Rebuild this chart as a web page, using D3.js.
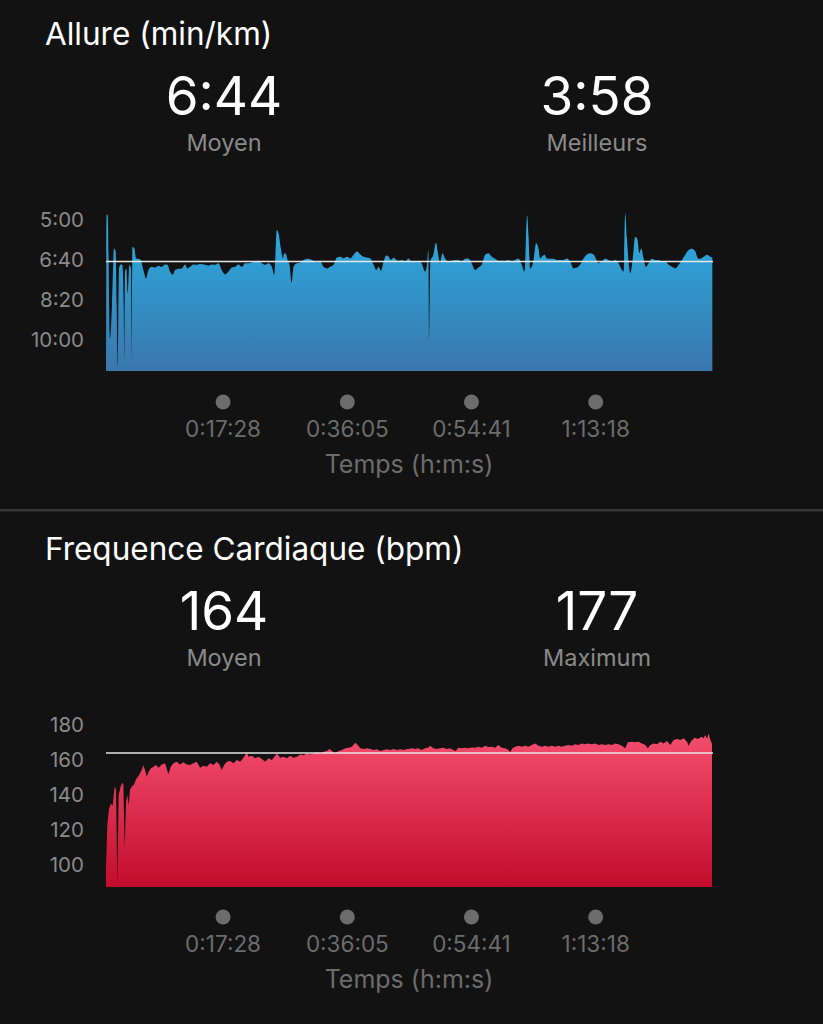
<!DOCTYPE html>
<html><head><meta charset="utf-8">
<script src="https://cdn.jsdelivr.net/npm/d3@7"></script>
<style>
html,body{margin:0;padding:0;background:#121212;}
svg{display:block;}
text{font-family:Inter,"Noto Sans",sans-serif;}
</style></head><body>
<svg id="c" width="823" height="1024"></svg>
<script>
// ---- data (time in seconds, pace in seconds per km, heart rate in bpm) ----
const paceTime = [0,6,15,36,54,72,87,96,105,117,132,147,159,165,171,183,195,210,225,231,237,255,270,291,312,336,360,381,411,441,471,501,531,552,576,600,621,651,681,711,732,756,786,816,846,891,921,951,981,1011,1041,1071,1101,1131,1161,1191,1221,1251,1281,1311,1341,1371,1401,1431,1461,1491,1512,1536,1551,1572,1590,1602,1620,1632,1650,1668,1686,1716,1746,1776,1806,1836,1866,1896,1926,1956,1986,2016,2046,2076,2106,2136,2166,2196,2226,2256,2286,2316,2346,2376,2406,2430,2451,2472,2496,2520,2541,2562,2586,2610,2631,2661,2691,2718,2748,2778,2808,2838,2868,2883,2898,2907,2916,2943,2967,2982,3003,3024,3048,3078,3108,3138,3168,3198,3228,3258,3288,3318,3348,3378,3408,3438,3468,3498,3528,3558,3588,3618,3648,3678,3708,3738,3762,3786,3798,3813,3828,3843,3867,3888,3903,3918,3942,3963,3993,4023,4053,4083,4113,4143,4173,4203,4233,4263,4293,4323,4353,4383,4404,4428,4458,4488,4518,4548,4578,4608,4638,4653,4668,4683,4698,4713,4734,4758,4779,4794,4812,4833,4854,4878,4908,4938,4968,4998,5028,5058,5088,5118,5148,5178,5208,5238,5268,5298,5322,5343,5373,5403,5433,5451];
const paceSec = [671,286,288,596,513,371,379,513,667,421,411,412,513,658,429,421,483,412,421,671,367,371,396,397,400,425,446,425,417,419,415,417,411,412,429,437,425,422,421,411,421,417,411,412,410,412,414,411,412,408,425,436,429,419,417,411,417,408,408,406,404,402,408,412,408,417,437,325,333,371,396,383,386,400,412,458,417,408,406,400,397,398,402,406,404,417,421,417,412,394,392,396,392,396,387,379,386,392,394,396,412,425,417,427,404,389,392,400,394,400,402,400,404,396,404,404,402,408,429,417,375,604,404,387,356,379,408,383,396,404,402,400,400,404,397,396,408,425,419,412,387,383,392,397,402,402,402,400,404,400,396,412,429,288,337,421,417,400,358,371,396,392,387,396,397,397,400,400,400,396,404,421,419,411,396,386,383,386,396,408,404,396,400,404,400,408,425,429,283,346,404,433,400,342,350,383,371,396,417,408,397,400,400,404,404,412,417,421,412,400,387,375,372,379,396,397,392,387,392,394];

const hrTime = [0,12,27,42,60,78,90,102,114,132,147,156,168,180,192,204,216,234,252,270,288,306,321,336,351,366,384,402,426,450,474,501,531,561,582,606,636,666,696,726,756,786,816,846,876,906,936,966,996,1020,1041,1062,1086,1116,1146,1176,1206,1236,1266,1281,1311,1341,1371,1401,1431,1461,1491,1521,1536,1566,1596,1626,1656,1686,1716,1746,1776,1806,1836,1866,1896,1926,1956,1986,2010,2031,2061,2091,2121,2151,2181,2211,2241,2262,2286,2316,2346,2376,2406,2436,2466,2496,2526,2556,2586,2616,2646,2676,2706,2718,2748,2778,2808,2838,2868,2898,2913,2943,2973,3003,3033,3063,3093,3123,3144,3168,3198,3228,3258,3288,3318,3348,3378,3408,3438,3468,3498,3528,3558,3588,3618,3633,3654,3678,3708,3738,3768,3798,3828,3858,3888,3918,3948,3978,4008,4038,4068,4098,4128,4158,4188,4218,4248,4278,4308,4338,4368,4398,4428,4458,4488,4518,4548,4578,4608,4638,4668,4692,4728,4758,4788,4818,4848,4872,4893,4923,4953,4983,5013,5043,5073,5103,5133,5163,5193,5223,5238,5262,5292,5322,5352,5373,5388,5403,5418,5433,5448];
const hrBpm = [98,123,132,135,134,145,143,89.5,140,145,147,146,109.5,136,140,134,143,145,146,149,150.5,152.4,154.3,157,154.3,150.5,153.3,155.2,156.2,157.1,155.6,157.5,158.1,151.8,156.2,158.1,159,157.5,158.7,157.5,157.1,158.1,159,155.6,156.7,156.2,158.1,157.1,159,157.5,154.3,157.1,159,159.4,158.1,160,159,161.3,164.4,161.9,162.5,161,161.9,160.6,159,161,160,162.5,163.8,161.3,161.9,161,162.5,161.3,161.9,163.2,162.8,163.8,163.2,163.8,164.4,163.8,164.7,165.1,166.3,165.1,163.8,165.1,165.7,166.7,167,167.6,169.9,168.6,166.7,166.3,166.7,166.3,165.7,166.1,165.1,165.7,166.1,165.7,166.3,165.7,166.1,165.7,166.3,166.3,166.7,166.3,166.7,165.7,166.7,167.2,168.2,166.7,166.3,166.7,167,166.3,166.7,165.7,165.1,167,166.7,167,166.7,167.2,167,167.6,167,168.2,167.4,167.6,167,168.6,167,166.7,165.7,164.4,166.7,167.6,168.2,167.6,168.2,167.6,168.6,169.5,168.2,167.6,168.2,167.6,168.2,167.6,168.2,167.6,168.2,168.6,168.2,169,168.6,169.5,169,169.5,169,169.5,168.6,169,168.6,169,168.6,169.5,169,168.2,166.7,170.1,170.5,170.1,170.5,169.5,168.6,166.7,168.6,169.5,169,170.5,169.5,170.9,168.6,171.4,172,171.4,172.4,170.5,168.2,170.9,172.8,172,173.3,172.4,174.3,172,175.2,171.4,169.5];

const paceTicks = [300, 400, 500, 600];
const hrTicks = [100, 120, 140, 160, 180];
const timeTicks = [1048, 2165, 3281, 4398];
const timeTickLabels = ["0:17:28", "0:36:05", "0:54:41", "1:13:18"];
const paceStats = ["6:44", "3:58"];
const paceStatLabels = ["Moyen", "Meilleurs"];
const paceAverage = 404;
const hrStats = ["164", "177"];
const hrStatLabels = ["Moyen", "Maximum"];
const hrAverage = 164;
const totalDuration = 5457;

// ---- drawing ----
const svg = d3.select("#c");
svg.append("rect").attr("width", 823).attr("height", 1024).attr("fill", "#121212");
svg.append("rect").attr("x", 0).attr("y", 509).attr("width", 823).attr("height", 2.5).attr("fill", "#363636");

const defs = svg.append("defs");
function grad(id, y1, y2, c1, c2) {
  const g = defs.append("linearGradient").attr("id", id)
    .attr("gradientUnits", "userSpaceOnUse").attr("x1", 0).attr("x2", 0).attr("y1", y1).attr("y2", y2);
  g.append("stop").attr("offset", 0).attr("stop-color", c1);
  g.append("stop").attr("offset", 1).attr("stop-color", c2);
}

const x = d3.scaleLinear().domain([0, totalDuration]).range([106, 713]);
const mmss = s => Math.floor(s / 60) + ":" + String(Math.round(s % 60)).padStart(2, "0");
const FONT = 'Inter,"Noto Sans",sans-serif';

function panel(o) {
  const g = svg.append("g");
  g.append("text").attr("x", 45).attr("y", o.off + 45).attr("fill", "#ffffff")
    .attr("font-size", 31.5).text(o.title);
  [224, 597].forEach((cx, i) => {
    g.append("text").attr("x", cx).attr("y", o.off + 115).attr("text-anchor", "middle")
      .attr("fill", "#ffffff").attr("font-size", 53).text(o.stats[i]);
    g.append("text").attr("x", cx).attr("y", o.off + 151).attr("text-anchor", "middle")
      .attr("fill", "#8a8a8a").attr("font-size", 23.5).text(o.statLabels[i]);
  });
  const y = o.y;
  const bottom = Math.max(...y.range());
  grad(o.gid, o.gradTop, bottom, o.c1, o.c2);
  const data = o.t.map((t, i) => [t, o.v[i]]);
  const area = d3.area().x(d => x(d[0])).y0(bottom).y1(d => y(d[1])).curve(o.curve);
  g.append("path").datum(data).attr("d", area).attr("fill", `url(#${o.gid})`);
  g.append("line").attr("x1", x(0)).attr("x2", x(totalDuration))
    .attr("y1", y(o.avg)).attr("y2", y(o.avg)).attr("stroke", "#e6e6e6").attr("stroke-width", 1.5);
  const ya = g.append("g").attr("transform", `translate(${x(0)},0)`)
    .call(d3.axisLeft(y).tickValues(o.yTicks).tickSize(0).tickPadding(22).tickFormat(o.yFmt));
  ya.select(".domain").remove();
  ya.selectAll("text").attr("fill", "#8a8a8a").attr("font-size", 20.5).attr("font-family", FONT);
  const xa = g.append("g").attr("transform", `translate(0,${o.off + 371})`)
    .call(d3.axisBottom(x).tickValues(timeTicks).tickSize(0).tickFormat((d, i) => timeTickLabels[i]));
  xa.select(".domain").remove();
  xa.selectAll("text").attr("y", 66).attr("dy", 0).attr("fill", "#6c6c6c").attr("font-size", 22.5)
    .attr("font-family", FONT);
  xa.selectAll(".tick").append("circle").attr("cy", 31).attr("r", 7.5).attr("fill", "#6c6c6c");
  g.append("text").attr("x", 409).attr("y", o.off + 473).attr("text-anchor", "middle")
    .attr("fill", "#6c6c6c").attr("font-size", 25).text("Temps (h:m:s)");
}

panel({
  off: 0, title: "Allure (min/km)", stats: paceStats, statLabels: paceStatLabels,
  y: d3.scaleLinear().domain([262.5, 677.5]).range([205, 371]).clamp(true),
  t: paceTime, v: paceSec, avg: paceAverage, yTicks: paceTicks, yFmt: mmss,
  gid: "gp", gradTop: 215, c1: "#2aafe3", c2: "#3a76ac", curve: d3.curveMonotoneX
});
panel({
  off: 515, title: "Frequence Cardiaque (bpm)", stats: hrStats, statLabels: hrStatLabels,
  y: d3.scaleLinear().domain([87.4, 188.6]).range([887, 710]).clamp(true),
  t: hrTime, v: hrBpm, avg: hrAverage, yTicks: hrTicks, yFmt: d3.format("d"),
  gid: "gh", gradTop: 735, c1: "#f44d6e", c2: "#c20c2c", curve: d3.curveLinear
});
</script>
</body></html>
